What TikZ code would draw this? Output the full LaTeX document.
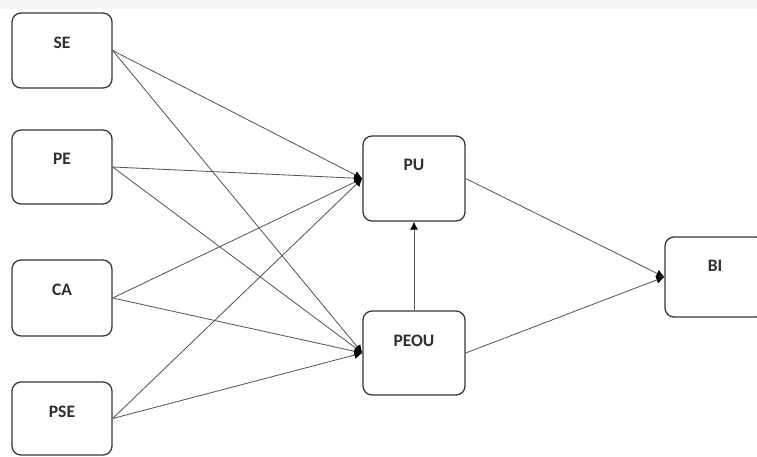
\documentclass[tikz,border=0pt]{standalone}
\usepackage{fontspec}
\setmainfont{Carlito}
\usetikzlibrary{arrows.meta}
\begin{document}
\begin{tikzpicture}[x=1pt,y=-1pt,
  box/.style={draw=black!78, line width=1.3pt, rounded corners=9pt, fill=white, inner sep=0pt},
  caption/.style={anchor=north, inner sep=0pt, yshift=-24pt, font=\fontsize{17.5}{20}\selectfont\bfseries, text=black!82},
  link/.style={draw=black!65, line width=0.85pt, -{Latex[length=8pt,width=8pt,color=black]}}]
  \useasboundingbox (0,0) rectangle (757,456);
  \clip (0,0) rectangle (757,456);
  \fill[black!4] (0,0) rectangle (757,9);
  % source constructs
  \node[box, minimum width=100pt, minimum height=75pt, label={[caption]north:SE}]  (se)  at (62,50.5) {};
  \node[box, minimum width=100pt, minimum height=74pt, label={[caption]north:PE}]  (pe)  at (62,167) {};
  \node[box, minimum width=100pt, minimum height=76pt, label={[caption]north:CA}]  (ca)  at (62,298) {};
  \node[box, minimum width=100pt, minimum height=73pt, label={[caption]north:PSE}] (pse) at (62,418.5) {};
  % mediators and outcome
  \node[box, minimum width=102pt, minimum height=85pt, label={[caption]north:PU}]   (pu)   at (414,178.5) {};
  \node[box, minimum width=102pt, minimum height=84pt, label={[caption]north:PEOU}] (peou) at (414,353) {};
  \node[box, minimum width=100pt, minimum height=80pt, label={[caption]north:BI}]   (bi)   at (715,277) {};
  % paths
  \foreach \s in {se,pe,ca,pse}{
    \draw[link] (\s.east) -- (pu.west);
    \draw[link] (\s.east) -- (peou.west);
  }
  \draw[link] (peou.north) -- (pu.south);
  \draw[link] (pu.east) -- (bi.west);
  \draw[link] (peou.east) -- (bi.west);
\end{tikzpicture}
\end{document}
